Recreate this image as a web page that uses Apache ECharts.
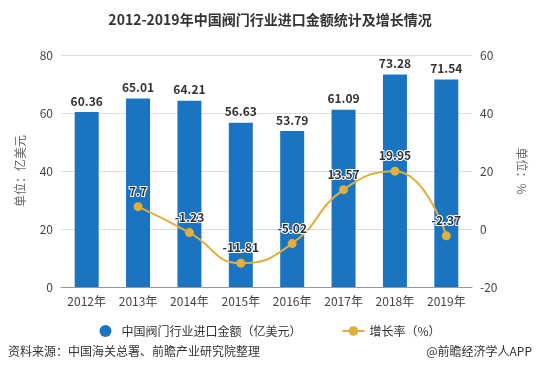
<!DOCTYPE html>
<html><head><meta charset="utf-8">
<script src="https://cdn.jsdelivr.net/npm/echarts@6/dist/echarts.min.js"></script>
<style>html,body{margin:0;padding:0;background:#fff}#c{width:540px;height:388px}</style>
</head><body><div id="c"></div>
<script>
var categories = ['2012年','2013年','2014年','2015年','2016年','2017年','2018年','2019年'];
var importValues = [60.36, 65.01, 64.21, 56.63, 53.79, 61.09, 73.28, 71.54];
var growthRates = [null, 7.7, -1.23, -11.81, -5.02, 13.57, 19.95, -2.37];
var leftTicks = [0, 20, 40, 60, 80];
var rightTicks = [-20, 0, 20, 40, 60];

var font = '"Microsoft YaHei","Noto Sans CJK SC",sans-serif';
var chart = echarts.init(document.getElementById('c'));
chart.setOption({
  animation: false,
  textStyle: {fontFamily: font},
  title: {
    text: '2012-2019年中国阀门行业进口金额统计及增长情况',
    left: 'center', top: 8,
    textStyle: {fontSize: 14, fontWeight: 'bold', color: '#333', fontFamily: font}
  },
  legend: {
    bottom: 46, left: 'center', itemGap: 40, itemWidth: 22, itemHeight: 12,
    textStyle: {fontSize: 12, color: '#333'},
    data: [
      {name: '中国阀门行业进口金额（亿美元）', icon: 'circle'},
      {name: '增长率（%）'}
    ]
  },
  grid: {left: 61, right: 68, top: 55, bottom: 101},
  xAxis: {
    type: 'category', data: categories,
    axisLine: {lineStyle: {color: '#999'}},
    axisTick: {alignWithLabel: true, lineStyle: {color: '#999'}},
    axisLabel: {color: '#444', fontSize: 12, margin: 8}
  },
  yAxis: [
    {
      type: 'value', min: leftTicks[0], max: leftTicks[leftTicks.length-1], interval: 20,
      name: '单位：亿美元', nameLocation: 'middle', nameGap: 35,
      nameTextStyle: {color: '#666', fontSize: 12},
      axisLine: {show: false}, axisTick: {show: false},
      axisLabel: {color: '#444', fontSize: 12},
      splitLine: {lineStyle: {color: '#ddd'}}
    },
    {
      type: 'value', min: rightTicks[0], max: rightTicks[rightTicks.length-1], interval: 20,
      name: '单位：%', nameLocation: 'middle', nameGap: 44, nameRotate: -90,
      nameTextStyle: {color: '#666', fontSize: 12},
      axisLine: {show: false}, axisTick: {show: false},
      axisLabel: {color: '#444', fontSize: 12},
      splitLine: {show: false}
    }
  ],
  series: [
    {
      name: '中国阀门行业进口金额（亿美元）', type: 'bar', data: importValues,
      barWidth: 24,
      itemStyle: {color: '#1a74c2'},
      label: {show: true, position: 'top', color: '#333', fontWeight: 'bold', fontSize: 12}
    },
    {
      name: '增长率（%）', type: 'line', yAxisIndex: 1, data: growthRates,
      smooth: true, symbol: 'circle', symbolSize: 9,
      lineStyle: {color: '#e2ae3c', width: 2},
      itemStyle: {color: '#e2ae3c'},
      label: {show: true, position: 'top', color: '#333', fontWeight: 'bold', fontSize: 12,
        textBorderColor: '#fff', textBorderWidth: 2}
    }
  ],
  graphic: [
    {type: 'text', left: 8, top: 345, style: {text: '资料来源：中国海关总署、前瞻产业研究院整理', fontSize: 12, fill: '#333', fontFamily: font}},
    {type: 'text', right: 8, top: 345, style: {text: '@前瞻经济学人APP', fontSize: 12, fill: '#333', fontFamily: font}}
  ]
});
</script></body></html>
